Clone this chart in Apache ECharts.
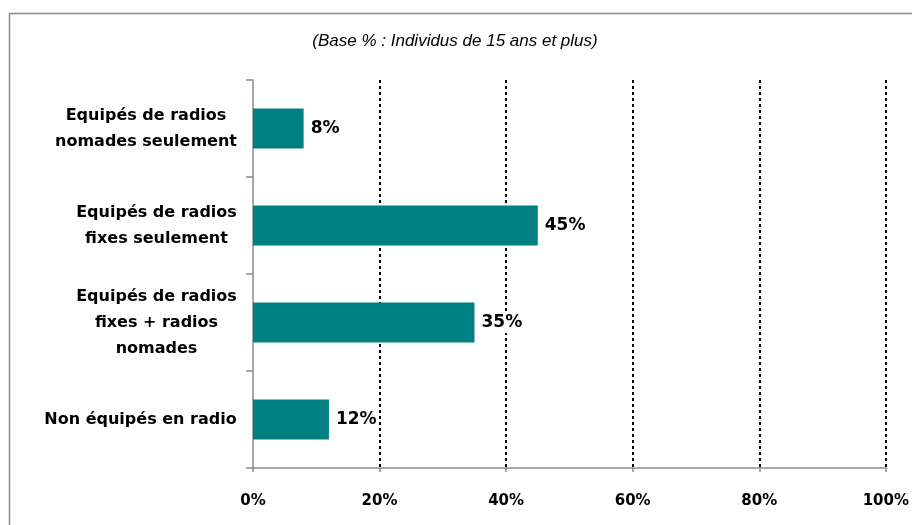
<!DOCTYPE html>
<html><head><meta charset="utf-8">
<script src="https://cdn.jsdelivr.net/npm/echarts@6/dist/echarts.min.js"></script>
<style>html,body{margin:0;padding:0;background:#fff}#c{width:912px;height:525px}</style>
</head><body><div id="c"></div>
<script>
var categories = ["Equipés de radios\nnomades seulement", "Equipés de radios\nfixes seulement", "Equipés de radios\nfixes + radios\nnomades", "Non équipés en radio"];
var values = [8, 45, 35, 12];
var xTicks = [0, 20, 40, 60, 80, 100];
var subtitle = "(Base % : Individus de 15 ans et plus)";

var labelFont = 'bold 16px "DejaVu Sans"';
var mc = document.createElement('canvas').getContext('2d');
mc.font = labelFont;
var rich = {};
categories.forEach(function (c, i) {
  var w = 0;
  c.split('\n').forEach(function (l) { w = Math.max(w, mc.measureText(l).width); });
  rich['c' + i] = { width: Math.ceil(w), align: 'center', fontFamily: 'DejaVu Sans', fontWeight: 'bold', fontSize: 16, lineHeight: 26, color: '#000' };
});

var chart = echarts.init(document.getElementById('c'));
chart.setOption({
  animation: false,
  backgroundColor: '#fff',
  graphic: [
    { type: 'rect', shape: { x: 9.5, y: 13.5, width: 1000, height: 600 }, style: { fill: 'none', stroke: '#8a8a8a', lineWidth: 1.5 }, z: 0 },
    { type: 'text', style: { text: subtitle, x: 455, y: 41, align: 'center', verticalAlign: 'middle', font: 'italic 17px "Liberation Sans"', fill: '#000' } }
  ],
  grid: { left: 253, right: 26, top: 80, bottom: 57 },
  xAxis: {
    type: 'value', min: 0, max: 100, interval: 20,
    axisLine: { show: true, lineStyle: { color: '#8a8a8a', width: 1.5 } },
    axisTick: { show: true, length: 4, lineStyle: { color: '#8a8a8a', width: 1.5 } },
    splitLine: { show: true, showMinLine: false, lineStyle: { color: '#000', type: [3, 3], width: 2 } },
    axisLabel: { margin: 26, fontFamily: 'DejaVu Sans', fontWeight: 'bold', fontSize: 15, color: '#000',
      formatter: function (v) { return xTicks.indexOf(v) >= 0 ? v + '%' : ''; } }
  },
  yAxis: {
    type: 'category', data: categories, inverse: true,
    axisLine: { show: true, lineStyle: { color: '#8a8a8a', width: 1.5 } },
    axisTick: { show: true, length: 7, lineStyle: { color: '#8a8a8a', width: 1.5 } },
    axisLabel: { margin: 16, align: 'right', rich: rich,
      formatter: function (v, i) { return v.split('\n').map(function (l) { return '{c' + i + '|' + l + '}'; }).join('\n'); } }
  },
  series: [{
    type: 'bar', data: values, barWidth: 40,
    itemStyle: { color: '#008080' },
    label: { show: true, position: 'right', distance: 5, formatter: '{c}%', fontFamily: 'DejaVu Sans', fontWeight: 'bold', fontSize: 17, color: '#000', backgroundColor: '#fff', padding: [2, 2] }
  }]
});
</script></body></html>
